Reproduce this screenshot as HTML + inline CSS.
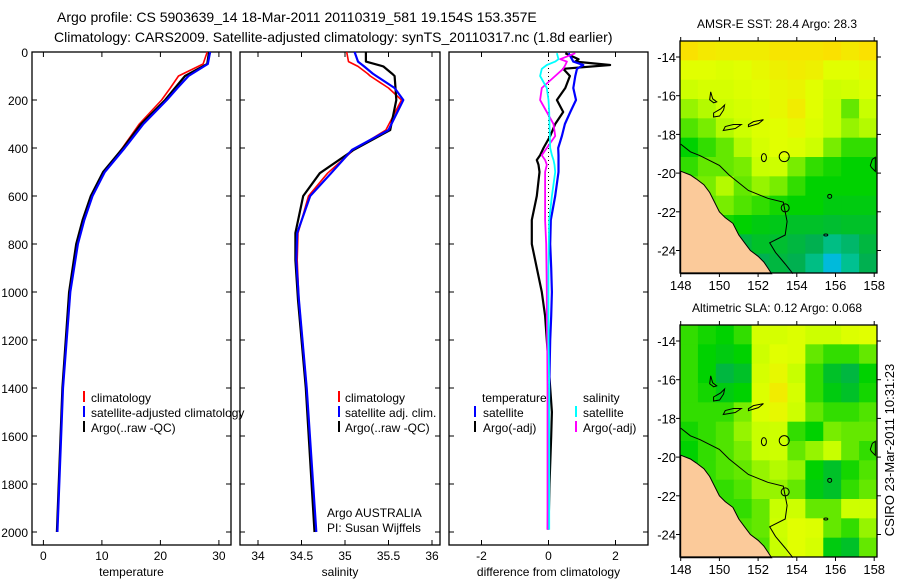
<!DOCTYPE html>
<html><head><meta charset="utf-8"><style>
html,body{margin:0;padding:0;background:#fff;}
svg{display:block;font-family:"Liberation Sans",sans-serif;}
</style></head><body>
<svg id="fig" width="900" height="580" viewBox="0 0 900 580" xmlns="http://www.w3.org/2000/svg">
<text x="57" y="22" font-size="14">Argo profile: CS 5903639_14 18-Mar-2011 20110319_581 19.154S 153.357E</text>
<text x="54" y="42" font-size="14">Climatology: CARS2009. Satellite-adjusted climatology: synTS_20110317.nc (1.8d earlier)</text>
<g id="maps"></g>
<g id="panels"></g>
<text x="84" y="402" font-size="12"><tspan x="91">climatology</tspan><tspan x="91" dy="15">satellite-adjusted climatology</tspan><tspan x="91" dy="15">Argo(..raw -QC)</tspan></text>
<rect x="83" y="391" width="2" height="11" fill="#f00"/>
<rect x="83" y="406" width="2" height="11" fill="#00f"/>
<rect x="83" y="421" width="2" height="11" fill="#000"/>
<rect x="338" y="391" width="2" height="11" fill="#f00"/>
<rect x="338" y="406" width="2" height="11" fill="#00f"/>
<rect x="338" y="421" width="2" height="11" fill="#000"/>
<text font-size="12" y="402"><tspan x="345">climatology</tspan><tspan x="345" dy="15">satellite adj. clim.</tspan><tspan x="345" dy="15">Argo(..raw -QC)</tspan></text>
<text font-size="12" y="402"><tspan x="482">temperature</tspan><tspan x="483" dy="15">satellite</tspan><tspan x="483" dy="15">Argo(-adj)</tspan></text>
<text font-size="12" y="402"><tspan x="583">salinity</tspan><tspan x="583" dy="15">satellite</tspan><tspan x="583" dy="15">Argo(-adj)</tspan></text>
<rect x="474" y="406" width="2" height="11" fill="#00f"/>
<rect x="474" y="421" width="2" height="11" fill="#000"/>
<rect x="575" y="406" width="2" height="11" fill="#0ff"/>
<rect x="575" y="421" width="2" height="11" fill="#f0f"/>
<text font-size="12" y="517"><tspan x="327">Argo AUSTRALIA</tspan><tspan x="327" dy="15">PI: Susan Wijffels</tspan></text>
<text x="0" y="0" font-size="13" transform="translate(894,450) rotate(-90)" text-anchor="middle">CSIRO 23-Mar-2011 10:31:23</text>
</svg>
<script>
// ---- profile data ----
const tDepth=[0,50,100,150,200,300,400,500,600,700,800,1000,1400,2000];
const tArgo=[28.3,28.0,24.2,22.5,20.8,16.7,13.6,10.2,8.1,6.7,5.6,4.4,3.25,2.3];
const tClim=[28.0,27.3,23.1,21.7,20.2,16.4,13.5,10.4,8.3,6.9,5.8,4.6,3.3,2.4];
const tSat=[28.5,28.1,24.8,22.9,21.1,17.1,13.9,10.5,8.4,7.0,5.9,4.6,3.35,2.4];
const sDepth=[0,40,60,90,100,150,200,325,408,505,600,754,867,1033,1400,2000];
const sArgo=[35.24,35.24,35.44,35.54,35.57,35.58,35.59,35.52,35.1,34.71,34.52,34.43,34.43,34.46,34.55,34.65];
const sClim=[35.02,35.04,35.15,35.26,35.29,35.5,35.65,35.47,35.1,34.8,34.58,34.46,34.45,34.47,34.56,34.66];
const sSat=[35.11,35.15,35.22,35.32,35.36,35.57,35.67,35.5,35.08,34.84,34.6,34.45,34.44,34.47,34.56,34.67];
const dDepth=[5,30,40,54,70,100,150,200,250,300,350,400,430,450,470,500,600,700,800,900,1000,1100,1200,1400,1500,1600,1800,1990];
const dTsat=[0.6,0.7,0.74,1.04,0.85,0.8,0.74,0.82,0.65,0.49,0.4,0.29,0.3,0.3,0.3,0.3,0.2,0.07,0.05,0.08,0.1,0.08,0.05,0.02,0.01,0.0,0.0,-0.02];
const dTargo=[0.5,0.9,0.8,1.84,0.44,0.64,0.5,0.25,0.44,0.2,0.05,-0.15,-0.25,-0.35,-0.3,-0.27,-0.35,-0.5,-0.5,-0.35,-0.2,-0.1,-0.05,0.05,0.1,0.08,0.03,0.0];
const dSsat=[0.25,0.3,0.2,-0.05,-0.2,-0.25,-0.05,0.0,0.02,0.03,0.04,0.05,0.1,0.15,0.18,0.2,0.1,0.02,0.01,0.0,0.0,0.0,0.0,0.02,0.02,0.02,0.02,0.02];
const dSargo=[0.8,0.35,0.55,0.5,0.44,0.2,-0.2,-0.25,-0.05,0.15,0.2,-0.05,-0.2,-0.1,-0.05,-0.1,-0.1,-0.1,-0.07,-0.06,-0.05,-0.05,-0.04,-0.03,-0.03,-0.03,-0.03,-0.03];
const depthTicks=[0,200,400,600,800,1000,1200,1400,1600,1800,2000];
const tTicks=[0,10,20,30], sTicks=[34,34.5,35,35.5,36], dTicks=[-2,0,2];
// ---- map data (values 0..1 on colormap), 12 rows x 11 cols ----
const sstGrid=[
[.88,.86,.85,.85,.85,.87,.87,.87,.88,.86,.88],
[.8,.8,.78,.8,.82,.84,.85,.84,.8,.8,.82],
[.72,.75,.75,.78,.8,.82,.83,.8,.72,.74,.78],
[.65,.68,.72,.75,.78,.82,.85,.8,.7,.6,.7],
[.58,.62,.68,.72,.78,.8,.82,.78,.7,.65,.68],
[.5,.55,.6,.68,.75,.8,.78,.72,.62,.55,.55],
[.55,.6,.6,.62,.7,.72,.62,.55,.52,.5,.5],
[.6,.62,.68,.6,.65,.62,.55,.5,.5,.5,.5],
[.55,.6,.62,.58,.55,.52,.5,.5,.48,.48,.48],
[.48,.5,.52,.5,.48,.47,.45,.45,.44,.45,.45],
[.35,.4,.45,.42,.45,.44,.42,.4,.36,.38,.42],
[.4,.38,.35,.32,.4,.42,.4,.36,.28,.35,.4]];
const slaGrid=[
[.55,.52,.5,.55,.75,.75,.78,.72,.72,.78,.8],
[.55,.5,.48,.5,.72,.8,.78,.6,.55,.55,.6],
[.55,.5,.42,.45,.75,.82,.7,.55,.45,.42,.5],
[.55,.52,.48,.5,.78,.85,.75,.55,.48,.45,.52],
[.55,.55,.55,.62,.78,.82,.72,.6,.55,.55,.58],
[.52,.55,.58,.65,.7,.72,.55,.5,.62,.6,.6],
[.5,.55,.58,.62,.7,.72,.6,.65,.7,.6,.55],
[.5,.55,.58,.6,.65,.68,.65,.5,.45,.52,.58],
[.5,.55,.55,.58,.65,.65,.6,.48,.45,.55,.6],
[.5,.52,.55,.55,.6,.7,.72,.6,.6,.72,.72],
[.5,.52,.55,.58,.6,.72,.8,.78,.6,.55,.65],
[.5,.52,.55,.55,.58,.7,.8,.75,.48,.45,.6]];
const lonTicks=[148,150,152,154,156,158], latTicks=[14,16,18,20,22,24];
const landLon=[148,148.5,148.8,149.2,149.5,150,150.3,150.7,151,151.3,151.6,152,152.3,152.5,152.7,148];
const landLat=[-19.9,-20.1,-20.3,-20.6,-21,-22,-22.3,-22.6,-23.2,-23.6,-24,-24.3,-24.6,-24.9,-25.2,-25.2];
const shelfLon=[148,148.5,149,150,150.5,151.5,152.5,153.3,153.5,153.4,152.6,152.9,153.4,153.8];
const shelfLat=[-18.5,-18.9,-19.1,-19.6,-20.1,-20.9,-21.3,-21.5,-22.5,-23.2,-23.6,-24.1,-24.7,-25.2];
const NS='http://www.w3.org/2000/svg';
function mk(parent,tag,attrs){const e=document.createElementNS(NS,tag);for(const k in attrs)e.setAttribute(k,attrs[k]);parent.appendChild(e);return e;}
const panels=document.getElementById('panels');
const Y0=52, YS=0.24, PT=52, PB=545;
const yOf=d=>Y0+d*YS;
function panel(name,x0,x1,dom,ticks,fmt,title,showY){
  const sx=v=>dom[2]+(v-dom[0])*dom[3];
  const g=mk(panels,'g',{});
  
  
  const r=mk(g,'rect',{x:x0,y:PT,width:x1-x0,height:PB-PT,fill:'none',stroke:'#000','stroke-width':1.3});
  
  
  ticks.forEach(t=>{const x=sx(t);
    mk(g,'line',{x1:x,x2:x,y1:PB,y2:PB-5,stroke:'#000'});mk(g,'line',{x1:x,x2:x,y1:PT,y2:PT+5,stroke:'#000'});
    const tx=mk(g,'text',{x:x,y:560,'font-size':12,'text-anchor':'middle'});tx.textContent=fmt(t);
    
    });
  depthTicks.forEach(d=>{const y=yOf(d);
    mk(g,'line',{x1:x0,x2:x0+5,y1:y,y2:y,stroke:'#000'});mk(g,'line',{x1:x1,x2:x1-5,y1:y,y2:y,stroke:'#000'});
    if(showY){const tx=mk(g,'text',{x:28,y:y+5,'font-size':12,'text-anchor':'end'});tx.textContent=d;
      
      }});
  const tt=mk(g,'text',{x:(x0+x1)/2,y:576,'font-size':12,'text-anchor':'middle'});tt.textContent=title;
  
  
  return sx;
}
function line(sx,vals,depths,color,w,name){
  let d='';vals.forEach((v,i)=>{d+=(i?'L':'M')+sx(v).toFixed(1)+','+yOf(depths[i]).toFixed(1);});
  const p=mk(panels,'path',{d:d,fill:'none',stroke:color,'stroke-width':w,'stroke-linejoin':'round'});
  
  
}
const sxT=panel('temperature-panel',32,231,[0,0,43.4,5.85],tTicks,t=>t,'temperature',true);
line(sxT,tClim,tDepth,'#f00',1.6,'temp-climatology-line');
line(sxT,tArgo,tDepth,'#000',2.2,'temp-argo-line');
line(sxT,tSat,tDepth,'#00f',2.2,'temp-satellite-line');
const sxS=panel('salinity-panel',240,440,[34,0,258,87],sTicks,t=>t,'salinity',false);
line(sxS,sClim,sDepth,'#f00',1.6,'sal-climatology-line');
line(sxS,sArgo,sDepth,'#000',2.2,'sal-argo-line');
line(sxS,sSat,sDepth,'#00f',2.2,'sal-satellite-line');
const sxD=panel('difference-panel',449,648,[0,0,548.5,33.5],dTicks,t=>t,'difference from climatology',false);
const zl=mk(panels,'line',{x1:sxD(0),x2:sxD(0),y1:PT,y2:yOf(2000),stroke:'#000','stroke-dasharray':'1,3'});


line(sxD,dTargo,dDepth,'#000',2.2,'diff-temp-argo-line');
line(sxD,dTsat,dDepth,'#00f',2.2,'diff-temp-sat-line');
line(sxD,dSargo,dDepth,'#f0f',1.8,'diff-sal-argo-line');
line(sxD,dSsat,dDepth,'#0ff',1.8,'diff-sal-sat-line');
// ---- maps ----
const stops=[[0,[0,0,140]],[0.2,[0,90,255]],[0.3,[0,210,210]],[0.4,[0,176,80]],[0.5,[0,210,0]],[0.6,[100,232,0]],[0.7,[200,255,0]],[0.8,[225,255,0]],[0.88,[250,225,0]],[1,[255,180,0]]];
function cmap(v){for(let i=1;i<stops.length;i++){if(v<=stops[i][0]){const a=stops[i-1],b=stops[i],f=(v-a[0])/(b[0]-a[0]);return 'rgb('+a[1].map((c,k)=>Math.round(c+(b[1][k]-c)*f)).join(',')+')';}}return 'rgb(255,180,0)';}
const maps=document.getElementById('maps');
function drawMap(name,top,grid,title){
  const L=680,R=877,B=top+232,lonX=lo=>680.7+(lo-148)*19.35,latY=la=>top+16+(-la-14)*19.35;
  const g=mk(maps,'g',{});
  
  
  const nr=grid.length,nc=grid[0].length,cw=(R-L)/nc,ch=(B-top)/nr;
  grid.forEach((row,i)=>row.forEach((v,j)=>{
    const c=mk(g,'rect',{x:(L+j*cw).toFixed(2),y:(top+i*ch).toFixed(2),width:(cw+0.5).toFixed(2),height:(ch+0.5).toFixed(2),fill:cmap(v)});
    
    
  }));
  let d='';landLon.forEach((lo,i)=>{d+=(i?'L':'M')+lonX(lo).toFixed(1)+','+latY(landLat[i]).toFixed(1);});
  const land=mk(g,'path',{d:d+'Z',fill:'#fbca9a',stroke:'#000','stroke-width':1});
  
  
  d='';shelfLon.forEach((lo,i)=>{d+=(i?'L':'M')+lonX(lo).toFixed(1)+','+latY(shelfLat[i]).toFixed(1);});
  const sh=mk(g,'path',{d:d,fill:'none',stroke:'#000','stroke-width':1});
  
  
  const reefs=[
    'M'+lonX(149.55)+','+latY(-15.8)+' l-1,8 l4,3 l3,-1 l-4,-3 z',
    'M'+lonX(149.7)+','+latY(-17.1)+' l6,-1 l4,-6 l1,-5 l-4,4 l-7,4 z',
    'M'+lonX(150.2)+','+latY(-17.8)+' l12,-2 l6,-4 l-8,0 l-8,2 z',
    'M'+lonX(151.5)+','+latY(-17.6)+' l10,-3 l5,-4 l-10,2 l-5,3 z',
    'M'+lonX(157.8)+','+latY(-19.6)+' l2,-6 l3,-2 l0,14 l-4,-4 z'];
  reefs.forEach(r=>{const p=mk(g,'path',{d:r,fill:'none',stroke:'#000','stroke-width':1});
    
    });
  const c1=mk(g,'circle',{cx:lonX(153.35),cy:latY(-19.15),r:5,fill:'none',stroke:'#000'});
  
  
  mk(g,'ellipse',{cx:lonX(152.3),cy:latY(-19.2),rx:2.5,ry:4,fill:'none',stroke:'#000'});
  mk(g,'ellipse',{cx:lonX(153.4),cy:latY(-21.8),rx:4,ry:4,fill:'none',stroke:'#000'});
  mk(g,'ellipse',{cx:lonX(155.7),cy:latY(-21.2),rx:2,ry:2,fill:'none',stroke:'#000'});
  mk(g,'ellipse',{cx:lonX(155.5),cy:latY(-23.2),rx:2,ry:1,fill:'none',stroke:'#000'});
  const fr=mk(g,'rect',{x:L,y:top,width:R-L,height:B-top,fill:'none',stroke:'#000','stroke-width':1.3});
  
  
  lonTicks.forEach(lo=>{const x=lonX(lo);mk(g,'line',{x1:x,x2:x,y1:B,y2:B+4,stroke:'#000'});mk(g,'line',{x1:x,x2:x,y1:top,y2:top-4,stroke:'#000'});
    const t=mk(g,'text',{x:x,y:B+17,'font-size':13,'text-anchor':'middle'});t.textContent=lo;
    
    });
  latTicks.forEach(la=>{const y=latY(-la);mk(g,'line',{x1:L,x2:L-4,y1:y,y2:y,stroke:'#000'});mk(g,'line',{x1:R,x2:R+4,y1:y,y2:y,stroke:'#000'});
    const t=mk(g,'text',{x:676,y:y+5,'font-size':13,'text-anchor':'end'});t.textContent='-'+la;
    
    });
  const tt=mk(g,'text',{x:777,y:top-13,'font-size':12,'text-anchor':'middle'});tt.textContent=title;
  
  
}
drawMap('sst-map',41,sstGrid,'AMSR-E SST: 28.4  Argo: 28.3');
drawMap('sla-map',325,slaGrid,'Altimetric SLA: 0.12  Argo: 0.068');
</script>
</body></html>
